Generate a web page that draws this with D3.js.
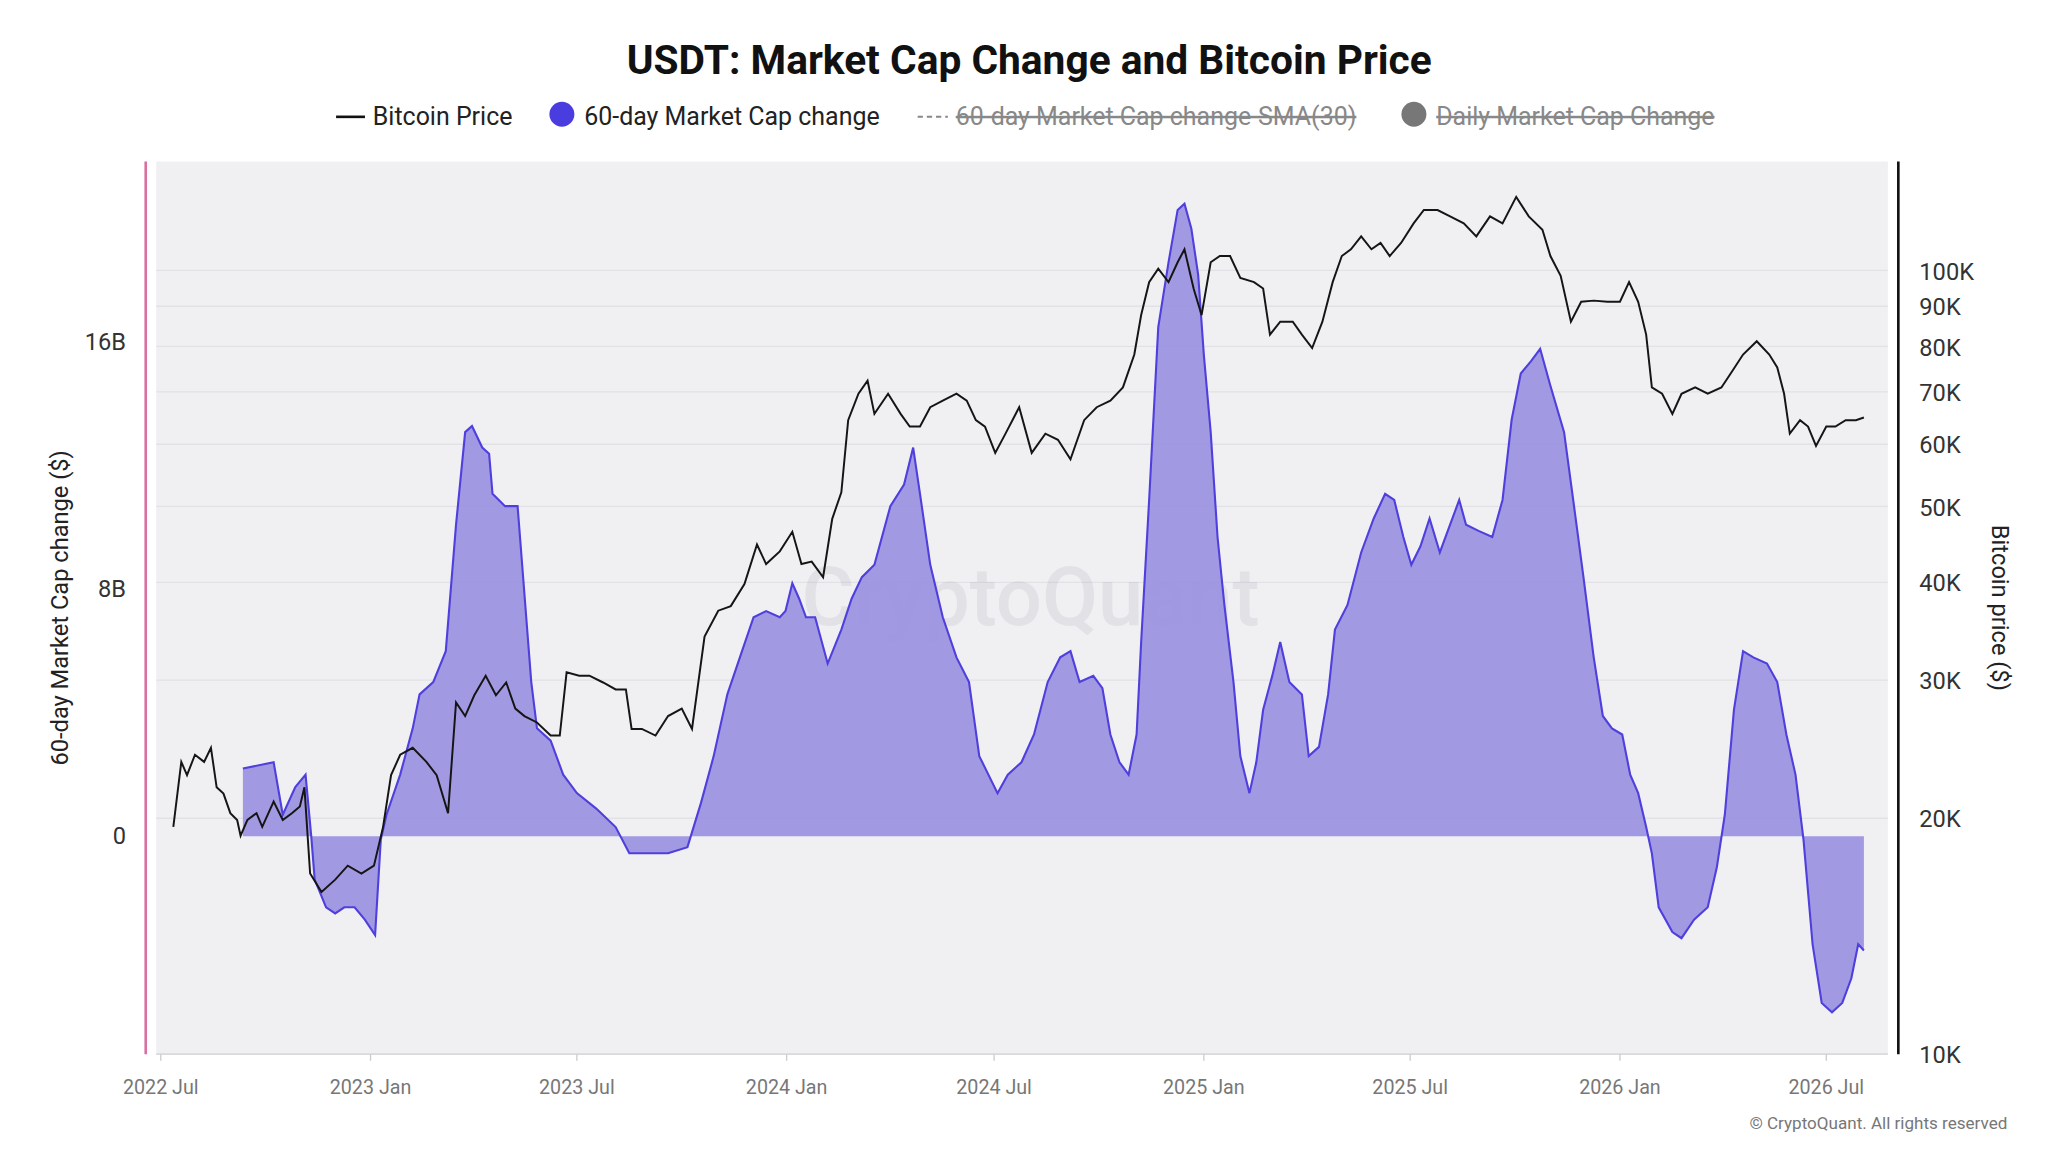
<!DOCTYPE html>
<html><head><meta charset="utf-8">
<script src="https://cdn.jsdelivr.net/npm/d3@7"></script>
<style>html,body{margin:0;padding:0;background:#fff;}svg{display:block;font-family:Roboto,"Noto Sans",sans-serif;}</style>
</head><body>
<svg id="c" width="2048" height="1152" viewBox="0 0 1560 877.5"></svg>
<script>
// day offsets from 2022-07-01, value in billions USD
const mcChange = [[72,2.2],[99,2.4],[107,0.7],[118,1.6],[127,2.0],[132,0],[135,-1.4],[145,-2.3],[153,-2.5],[161,-2.3],[170,-2.3],[179,-2.7],[188,-3.2],[193,-0.1],[198,0.7],[210,2.0],[221,3.5],[227,4.6],[239,5.0],[250,6.0],[259,10.1],[267,13.1],[273,13.3],[282,12.6],[288,12.4],[291,11.1],[302,10.7],[313,10.7],[317,8.8],[325,5.0],[330,3.5],[342,3.1],[353,2.0],[365,1.4],[382,0.9],[399,0.3],[411,-0.55],[428,-0.55],[445,-0.55],[462,-0.35],[474,1.1],[485,2.6],[497,4.6],[508,5.8],[520,7.1],[531,7.3],[543,7.1],[548,7.3],[554,8.2],[560,7.7],[566,7.1],[574,7.1],[585,5.6],[597,6.7],[606,7.7],[615,8.4],[626,8.8],[640,10.7],[652,11.4],[660,12.6],[666,11.1],[675,8.8],[686,7.1],[698,5.8],[709,5.0],[718,2.6],[726,2.0],[734,1.4],[743,2.0],[755,2.4],[766,3.3],[778,5.0],[789,5.8],[798,6.0],[806,5.0],[818,5.2],[826,4.8],[833,3.3],[841,2.4],[849,2.0],[856,3.3],[860,6.3],[867,10.9],[875,16.5],[884,18.6],[892,20.3],[898,20.5],[904,19.7],[910,18.2],[915,15.6],[921,13.1],[927,9.7],[933,7.5],[941,5.0],[947,2.6],[955,1.4],[961,2.4],[967,4.1],[975,5.2],[982,6.3],[990,5.0],[1001,4.6],[1007,2.6],[1016,2.9],[1024,4.6],[1030,6.7],[1041,7.5],[1053,9.2],[1064,10.3],[1074,11.1],[1082,10.9],[1090,9.7],[1097,8.8],[1105,9.4],[1113,10.3],[1122,9.2],[1131,10.1],[1139,10.9],[1145,10.1],[1156,9.9],[1168,9.7],[1177,10.9],[1185,13.5],[1193,15.0],[1202,15.4],[1210,15.8],[1219,14.6],[1231,13.1],[1239,10.9],[1248,8.4],[1257,5.8],[1265,3.9],[1273,3.5],[1282,3.3],[1289,2.0],[1296,1.4],[1303,0.3],[1308,-0.55],[1314,-2.3],[1326,-3.1],[1334,-3.3],[1345,-2.7],[1357,-2.3],[1365,-1.0],[1372,0.7],[1380,4.1],[1388,6.0],[1397,5.8],[1409,5.6],[1418,5.0],[1426,3.3],[1434,2.0],[1441,-0.1],[1449,-3.5],[1457,-5.4],[1466,-5.7],[1475,-5.4],[1483,-4.6],[1489,-3.5],[1494,-3.7]];
// day offsets from 2022-07-01, price in thousands USD
const btcPrice = [[11,19.5],[18,23.6],[23,22.7],[30,24.1],[38,23.6],[44,24.6],[49,21.9],[55,21.5],[61,20.3],[67,19.9],[70,19.0],[76,19.9],[84,20.3],[89,19.5],[99,21.0],[107,19.9],[115,20.3],[122,20.7],[126,21.9],[131,17.0],[141,16.1],[153,16.7],[164,17.4],[176,17.0],[187,17.4],[195,19.5],[202,22.7],[210,24.1],[221,24.6],[233,23.6],[242,22.7],[252,20.3],[259,28.1],[267,27.0],[275,28.7],[285,30.4],[294,28.7],[303,29.8],[311,27.6],[319,27.0],[330,26.5],[342,25.5],[350,25.5],[356,30.7],[367,30.4],[376,30.4],[388,29.8],[399,29.2],[408,29.2],[413,26.0],[422,26.0],[434,25.5],[445,27.0],[457,27.6],[466,26.0],[477,34.1],[489,36.8],[500,37.3],[512,39.8],[523,44.7],[531,42.2],[543,43.8],[554,46.4],[562,42.2],[571,42.5],[581,40.6],[589,48.2],[597,52.1],[603,64.4],[612,69.6],[620,72.3],[626,65.6],[638,69.6],[649,65.6],[657,63.2],[666,63.2],[675,66.9],[686,68.2],[698,69.6],[707,68.2],[715,64.4],[723,63.2],[732,58.5],[741,61.9],[753,66.9],[764,58.5],[776,61.9],[787,60.8],[798,57.4],[810,64.4],[821,66.9],[833,68.2],[844,70.9],[854,78.1],[860,87.7],[867,96.6],[875,100.5],[884,96.6],[892,102.4],[898,106.4],[906,94.8],[913,87.7],[921,102.4],[929,104.3],[938,104.3],[947,97.8],[959,96.6],[967,94.8],[973,82.8],[982,86.0],[993,86.0],[1001,82.8],[1010,79.6],[1019,86.0],[1028,96.6],[1036,104.3],[1044,106.4],[1053,110.5],[1062,106.4],[1070,108.4],[1078,104.3],[1088,108.4],[1099,114.8],[1108,119.4],[1120,119.4],[1131,117.2],[1143,114.8],[1154,110.5],[1166,117.2],[1177,114.8],[1189,124.1],[1200,117.2],[1212,112.7],[1219,104.3],[1228,98.4],[1237,86.0],[1246,91.2],[1257,91.5],[1269,91.2],[1280,91.2],[1288,96.6],[1296,91.2],[1303,82.8],[1308,70.9],[1317,69.6],[1326,65.6],[1334,69.6],[1346,70.9],[1357,69.6],[1369,70.9],[1377,73.8],[1388,78.1],[1400,81.2],[1411,78.1],[1418,75.2],[1424,69.6],[1429,61.9],[1438,64.4],[1445,63.2],[1452,59.7],[1461,63.2],[1469,63.2],[1478,64.4],[1487,64.4],[1494,64.9]];
const leftTicks = [0, 8, 16];
const leftTickLabels = ["0", "8B", "16B"];
const rightTicks = [10,20,30,40,50,60,70,80,90,100];
const xTickDates = ["2022-07-01","2023-01-01","2023-07-01","2024-01-01","2024-07-01","2025-01-01","2025-07-01","2026-01-01","2026-07-01"];
const xTickLabels = ["2022 Jul","2023 Jan","2023 Jul","2024 Jan","2024 Jul","2025 Jan","2025 Jul","2026 Jan","2026 Jul"];

const base = new Date(2022,6,1);
const dayToDate = d => d3.timeDay.offset(base, d);
const svg = d3.select("#c");
const L=119, R=1438, T=123, B=803;
const x = d3.scaleTime().domain([new Date(2022,5,27), new Date(2026,7,24)]).range([L,R]);
const y = d3.scaleLinear().domain([-7.06, 21.87]).range([B,T]);
const yR = d3.scaleLog().domain([10, 137.7]).range([B,T]);

svg.append("rect").attr("x",L).attr("y",T).attr("width",R-L).attr("height",B-T).attr("fill","#f0f0f3");
svg.append("g").selectAll("line").data(rightTicks).join("line")
  .attr("x1",L).attr("x2",R).attr("y1",d=>yR(d)).attr("y2",d=>yR(d)).attr("stroke","#e2e2e6").attr("stroke-width",1);
svg.append("line").attr("x1",L).attr("x2",R).attr("y1",B).attr("y2",B).attr("stroke","#d6d6da");

svg.append("text").attr("x",785).attr("y",476).attr("text-anchor","middle").attr("font-size",62).attr("font-weight",500)
  .attr("fill","#7a7a90").attr("fill-opacity",0.13).text("CryptoQuant");

const area = d3.area().x(d=>x(dayToDate(d[0]))).y0(y(0)).y1(d=>y(d[1]));
const mcPts = [[mcChange[0][0],0], ...mcChange, [mcChange[mcChange.length-1][0],0]];
svg.append("path").datum(mcPts).attr("d",area).attr("fill","#9d93e2").attr("fill-opacity",0.95);
svg.append("path").datum(mcChange).attr("d",d3.line().x(d=>x(dayToDate(d[0]))).y(d=>y(d[1])))
  .attr("fill","none").attr("stroke","#4f3fdc").attr("stroke-width",1.6);
svg.append("path").datum(btcPrice).attr("d",d3.line().x(d=>x(dayToDate(d[0]))).y(d=>yR(d[1])))
  .attr("fill","none").attr("stroke","#151515").attr("stroke-width",1.5);

// left axis
svg.append("line").attr("x1",111).attr("x2",111).attr("y1",T).attr("y2",B).attr("stroke","#d9709f").attr("stroke-width",2);
svg.append("g").selectAll("text").data(leftTicks).join("text").attr("x",96).attr("y",d=>y(d)+6)
  .attr("text-anchor","end").attr("font-size",18).attr("fill","#333").text((d,i)=>leftTickLabels[i]);
svg.append("text").attr("transform","translate(52,463) rotate(-90)").attr("text-anchor","middle")
  .attr("font-size",18).attr("fill","#222").text("60-day Market Cap change ($)");
// right axis
svg.append("line").attr("x1",1446).attr("x2",1446).attr("y1",T).attr("y2",B).attr("stroke","#111").attr("stroke-width",2);
svg.append("g").selectAll("text").data(rightTicks).join("text").attr("x",1462).attr("y",d=>yR(d)+7)
  .attr("font-size",18).attr("fill","#333").text(d=>d+"K");
svg.append("text").attr("transform","translate(1517,463) rotate(90)").attr("text-anchor","middle")
  .attr("font-size",18).attr("fill","#222").text("Bitcoin price ($)");
// x axis
const xt = svg.append("g");
xt.selectAll("line").data(xTickDates).join("line").attr("x1",d=>x(new Date(d))).attr("x2",d=>x(new Date(d)))
  .attr("y1",B).attr("y2",B+5).attr("stroke","#ccc");
xt.selectAll("text").data(xTickDates).join("text").attr("x",d=>x(new Date(d))).attr("y",833).attr("text-anchor","middle")
  .attr("font-size",15).attr("fill","#777").text((d,i)=>xTickLabels[i]);

// title & legend
svg.append("text").attr("x",784).attr("y",56).attr("text-anchor","middle").attr("font-size",31).attr("font-weight",700)
  .attr("fill","#111").text("USDT: Market Cap Change and Bitcoin Price");
const lg = svg.append("g").attr("font-size",19);
lg.append("line").attr("x1",256).attr("x2",278).attr("y1",89).attr("y2",89).attr("stroke","#111").attr("stroke-width",2);
lg.append("text").attr("x",284).attr("y",95).attr("fill","#222").text("Bitcoin Price");
lg.append("circle").attr("cx",428).attr("cy",87).attr("r",9.5).attr("fill","#4a3de0");
lg.append("text").attr("x",445).attr("y",95).attr("fill","#222").text("60-day Market Cap change");
lg.append("line").attr("x1",699).attr("x2",722).attr("y1",89).attr("y2",89).attr("stroke","#888").attr("stroke-width",1.5).attr("stroke-dasharray","4,3");
lg.append("text").attr("x",728).attr("y",95).attr("fill","#888").attr("text-decoration","line-through").text("60-day Market Cap change-SMA(30)");
lg.append("circle").attr("cx",1077).attr("cy",87).attr("r",9.5).attr("fill","#777");
lg.append("text").attr("x",1094).attr("y",95).attr("fill","#888").attr("text-decoration","line-through").text("Daily Market Cap Change");
svg.append("text").attr("x",1529).attr("y",860).attr("text-anchor","end").attr("font-size",13).attr("fill","#777").text("© CryptoQuant. All rights reserved");
</script></body></html>
